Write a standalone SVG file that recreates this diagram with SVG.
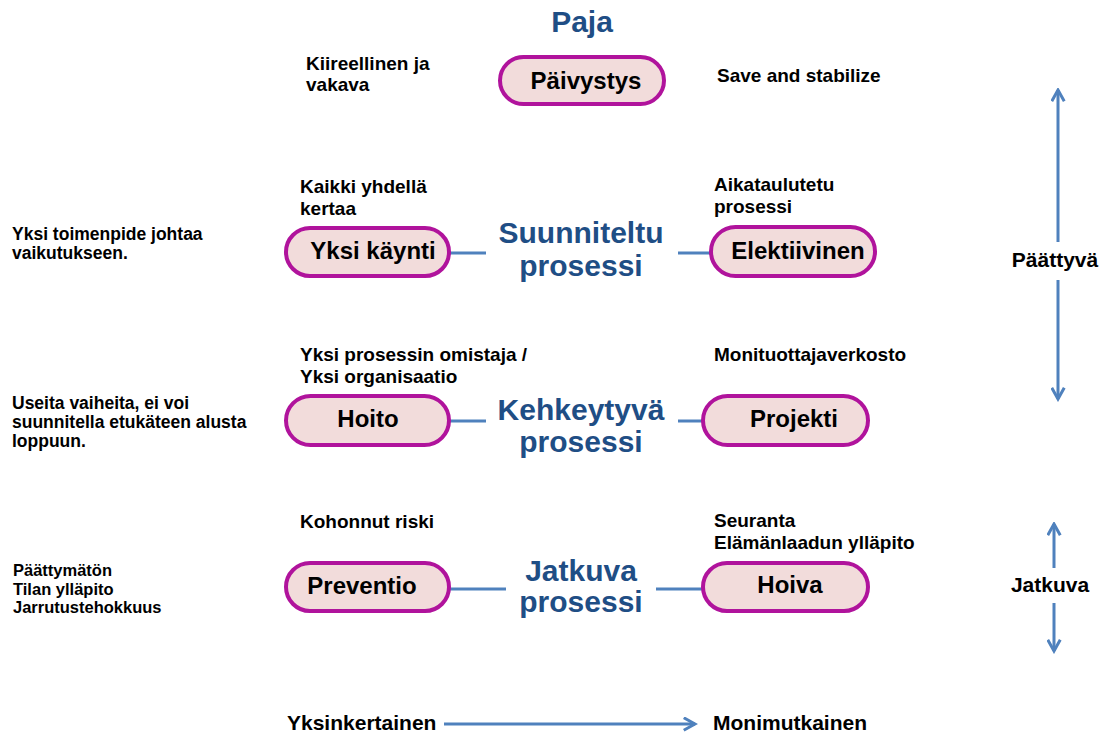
<svg xmlns="http://www.w3.org/2000/svg" width="1104" height="738" viewBox="0 0 1104 738">
<defs>
<marker id="chev" viewBox="0 0 12 12" refX="10" refY="6" markerWidth="5" markerHeight="5" orient="auto-start-reverse" markerUnits="strokeWidth">
<path d="M1,1 L10,6 L1,11" fill="none" stroke="#4F81BD" stroke-width="2.4"/>
</marker>
</defs>
<style>
.pill{fill:#F2DCDB;stroke:#B0139C;stroke-width:4}
.pt{font-family:"Liberation Sans",Arial,sans-serif;font-weight:bold;font-size:24px;fill:#000;text-anchor:middle}
.t{font-family:"Liberation Sans",Arial,sans-serif;font-weight:bold;font-size:19px;fill:#000}
.ts{font-family:"Liberation Sans",Arial,sans-serif;font-weight:bold;font-size:17.5px;fill:#000}
.tp{font-family:"Liberation Sans",Arial,sans-serif;font-weight:bold;font-size:16.5px;fill:#000}
.big{font-family:"Liberation Sans",Arial,sans-serif;font-weight:bold;font-size:30px;fill:#1F4E85;text-anchor:middle}
.ln{stroke:#4F81BD;stroke-width:3;fill:none}
.ar{stroke:#4F81BD;stroke-width:3;fill:none;marker-end:url(#chev)}
.ax{font-family:"Liberation Sans",Arial,sans-serif;font-weight:bold;font-size:21px;fill:#000}
</style>
<rect width="1104" height="738" fill="#fff"/>

<g id="connectors">
<line class="ln" x1="449" y1="253" x2="486" y2="253"/>
<line class="ln" x1="678" y1="253" x2="711" y2="253"/>
<line class="ln" x1="449" y1="421" x2="486" y2="421"/>
<line class="ln" x1="678" y1="421" x2="703" y2="421"/>
<line class="ln" x1="449" y1="589" x2="506" y2="589"/>
<line class="ln" x1="656" y1="589" x2="703" y2="589"/>
<line class="ar" x1="1058" y1="242" x2="1058" y2="90"/>
<line class="ar" x1="1058" y1="280" x2="1058" y2="399"/>
<line class="ar" x1="1054" y1="568" x2="1054" y2="524"/>
<line class="ar" x1="1054" y1="603" x2="1054" y2="651"/>
<line class="ar" x1="444" y1="724" x2="695" y2="724"/>
</g>

<g id="paja"><text class="big" x="582" y="32">Paja</text></g>

<g id="paivystys">
<rect class="pill" x="500" y="57" width="164" height="47" rx="23.5"/>
<text class="pt" x="586" y="89">Päivystys</text>
</g>
<g id="kiireellinen"><text class="t" x="306" y="70">Kiireellinen ja</text><text class="t" x="306" y="91">vakava</text></g>
<g id="save"><text class="t" x="717" y="82">Save and stabilize</text></g>

<g id="yksikaynti">
<rect class="pill" x="286" y="228" width="163" height="48" rx="24"/>
<text class="pt" x="373" y="259">Yksi käynti</text>
</g>
<g id="suunniteltu"><text class="big" x="581" y="243">Suunniteltu</text><text class="big" x="581" y="276">prosessi</text></g>
<g id="elektiivinen">
<rect class="pill" x="711" y="227" width="164" height="49" rx="24.5"/>
<text class="pt" x="798" y="259">Elektiivinen</text>
</g>
<g id="kaikki"><text class="t" x="300" y="193">Kaikki yhdellä</text><text class="t" x="300" y="215">kertaa</text></g>
<g id="aikataulutetu"><text class="t" x="714" y="191">Aikataulutetu</text><text class="t" x="714" y="213">prosessi</text></g>
<g id="yksitoimenpide"><text class="ts" x="12" y="240">Yksi toimenpide johtaa</text><text class="ts" x="12" y="259">vaikutukseen.</text></g>

<g id="hoito">
<rect class="pill" x="286" y="396" width="163" height="49" rx="24.5"/>
<text class="pt" x="368" y="427">Hoito</text>
</g>
<g id="kehkeytyva"><text class="big" x="581" y="420">Kehkeytyvä</text><text class="big" x="581" y="452">prosessi</text></g>
<g id="projekti">
<rect class="pill" x="703" y="396" width="165" height="49" rx="24.5"/>
<text class="pt" x="794" y="427">Projekti</text>
</g>
<g id="omistaja"><text class="t" x="300" y="361">Yksi prosessin omistaja /</text><text class="t" x="300" y="383">Yksi organisaatio</text></g>
<g id="monituottaja"><text class="t" x="714" y="361">Monituottajaverkosto</text></g>
<g id="useita"><text class="ts" x="12" y="409">Useita vaiheita, ei voi</text><text class="ts" x="12" y="428">suunnitella etukäteen alusta</text><text class="ts" x="12" y="447">loppuun.</text></g>

<g id="preventio">
<rect class="pill" x="286" y="563" width="163" height="48" rx="24"/>
<text class="pt" x="362" y="594">Preventio</text>
</g>
<g id="jatkuvaprosessi"><text class="big" x="581" y="581">Jatkuva</text><text class="big" x="581" y="612">prosessi</text></g>
<g id="hoiva">
<rect class="pill" x="703" y="563" width="165" height="48" rx="24"/>
<text class="pt" x="790" y="593">Hoiva</text>
</g>
<g id="kohonnut"><text class="t" x="300" y="528">Kohonnut riski</text></g>
<g id="seuranta"><text class="t" x="714" y="527">Seuranta</text><text class="t" x="714" y="549">Elämänlaadun ylläpito</text></g>
<g id="paattymaton"><text class="tp" x="13" y="576">Päättymätön</text><text class="tp" x="13" y="595">Tilan ylläpito</text><text class="tp" x="13" y="613">Jarrutustehokkuus</text></g>

<g id="paattyva"><text class="ax" x="1055" y="267" text-anchor="middle">Päättyvä</text></g>
<g id="jatkuva"><text class="ax" x="1050" y="592" text-anchor="middle">Jatkuva</text></g>
<g id="yksinkertainen"><text class="ax" x="287" y="730">Yksinkertainen</text></g>
<g id="monimutkainen"><text class="ax" x="713" y="730">Monimutkainen</text></g>
</svg>
